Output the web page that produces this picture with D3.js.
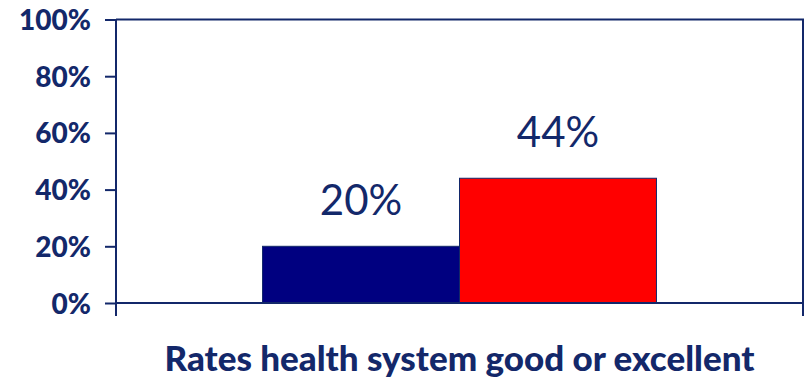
<!DOCTYPE html>
<meta charset="utf-8">
<style>
body { margin: 0; background: #fff; }
text { font-family: Lato, "Open Sans", sans-serif; fill: #13286a; }
.tick text { font-weight: 900; font-size: 28px; }
.label { font-size: 42px; }
.title { font-weight: 900; font-size: 35px; }
</style>
<svg width="808" height="380"></svg>
<script src="https://d3js.org/d3.v7.min.js"></script>
<script>

var categories = ["Rates health system good or excellent"];
var groups = ["A", "B"];
var values = [20, 44];
var colors = ["#000080", "#ff0000"];
var yTicks = [0, 20, 40, 60, 80, 100];

var svg = d3.select("svg"),
    margin = {top: 19.5, right: 5, bottom: 77, left: 116},
    width = 808 - margin.left - margin.right,
    height = 380 - margin.top - margin.bottom;

var g = svg.append("g").attr("transform", "translate(" + margin.left + "," + margin.top + ")");

var x0 = d3.scaleBand().domain(categories).range([0, width]).paddingInner(0).paddingOuter(0.372);
var x1 = d3.scaleBand().domain(groups).range([0, x0.bandwidth()]);
var y = d3.scaleLinear().domain([0, 100]).range([height, 0]);

var navy = "#13286a";

// frame top + right
g.append("path")
    .attr("d", "M0,0H" + width + "V" + height)
    .attr("fill", "none")
    .attr("stroke", navy)
    .attr("stroke-width", 2);

// bars
g.selectAll("rect")
  .data(values)
  .enter().append("rect")
    .attr("x", function(d, i) { return x0(categories[0]) + x1(groups[i]); })
    .attr("y", function(d) { return y(d); })
    .attr("width", x1.bandwidth())
    .attr("height", function(d) { return height - y(d); })
    .attr("fill", function(d, i) { return colors[i]; })
    .attr("stroke", navy)
    .attr("stroke-width", 1);

g.selectAll(".label")
  .data(values)
  .enter().append("text")
    .attr("class", "label")
    .attr("text-anchor", "middle")
    .attr("x", function(d, i) { return x0(categories[0]) + x1(groups[i]) + x1.bandwidth() / 2; })
    .attr("y", function(d) { return y(d) - 31; })
    .text(function(d) { return d + "%"; });

// y axis
var yAxis = g.append("g")
    .call(d3.axisLeft(y).tickValues(yTicks).tickSize(11).tickPadding(14)
      .tickFormat(function(d) { return d + "%"; }));
yAxis.selectAll("line, path").attr("stroke", navy).attr("stroke-width", 2);
yAxis.select(".domain").attr("d", "M0,0V" + height);
yAxis.selectAll(".tick text").attr("dy", "0.36em");

// x axis
var xAxis = g.append("g").attr("transform", "translate(0," + height + ")");
xAxis.append("line").attr("x1", 0).attr("x2", width).attr("stroke", navy).attr("stroke-width", 2);
xAxis.selectAll(".edge")
  .data(x0.range())
  .enter().append("line")
    .attr("x1", function(d) { return d; }).attr("x2", function(d) { return d; })
    .attr("y1", 0).attr("y2", 13)
    .attr("stroke", navy).attr("stroke-width", 2);

xAxis.append("text")
    .attr("class", "title")
    .attr("text-anchor", "middle")
    .attr("x", x0(categories[0]) + x0.bandwidth() / 2)
    .attr("y", 68)
    .text(categories[0]);

</script>
